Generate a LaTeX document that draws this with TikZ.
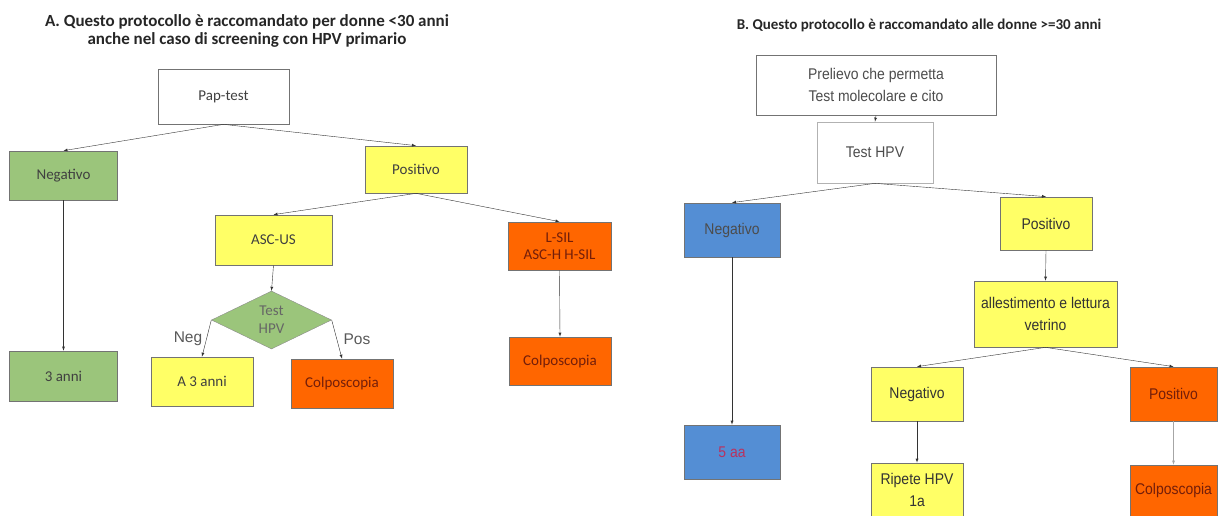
\documentclass[tikz,border=0pt]{standalone}
\usepackage{fontspec}
\setmainfont{Carlito}
\newfontfamily\arialstretta[FakeStretch=0.9]{Liberation Sans}
\newfontfamily\arialfont{Liberation Sans}
\usetikzlibrary{shapes.geometric}
\definecolor{verde}{RGB}{155,197,123}
\definecolor{giallo}{RGB}{255,255,102}
\definecolor{arancio}{RGB}{255,102,0}
\definecolor{blu}{RGB}{84,142,212}
\definecolor{testoarancio}{RGB}{115,30,10}
\definecolor{testorosso}{RGB}{185,50,95}

\begin{document}
\begin{tikzpicture}[x=1pt,y=-1pt]
% Stili (MODIFICABILI)
\tikzstyle{freccia}=[->,>=latex,thin,draw=black!80]
\tikzstyle{scatola}=[draw=black!55,line width=0.7pt,inner sep=1pt,align=center,text=black!75,font=\fontsize{15}{17}\selectfont]
\tikzstyle{scatolaB}=[scatola,text=black!80,font=\arialstretta\fontsize{15.5}{22}\selectfont]
\tikzstyle{rombo}=[diamond,draw=black!45,fill=verde,inner sep=0pt,align=center,text=black!60,font=\fontsize{15}{18}\selectfont]
\tikzstyle{etichetta}=[text=black!65,font=\arialfont\fontsize{15.5}{18}\selectfont]
\tikzstyle{titolo}=[align=center,text=black!85,font=\bfseries\fontsize{17}{18.3}\selectfont]
% Cornice
\useasboundingbox (0,0) rectangle (1218,516);
% Titoli
\node[titolo] (TA) at (247,31) {A. Questo protocollo è raccomandato per donne <30 anni\\anche nel caso di screening con HPV primario};
\node[titolo,font=\bfseries\fontsize{15}{18}\selectfont] (TB) at (919,25) {B. Questo protocollo è raccomandato alle donne >=30 anni};
% Nodi A
\node[scatola,fill=white,minimum width=131pt,minimum height=55pt] (A) at (223.5,96.5) {Pap-test};
\node[scatola,fill=verde,minimum width=108pt,minimum height=49pt] (Aa) at (63.5,175.5) {Negativo};
\node[scatola,fill=giallo,minimum width=102pt,minimum height=47pt] (Ab) at (416,169.5) {Positivo};
\node[scatola,fill=verde,minimum width=108pt,minimum height=50pt] (Aaa) at (63.5,376) {3 anni};
\node[scatola,fill=giallo,minimum width=117pt,minimum height=50pt] (Aba) at (273.5,240) {ASC-US};
\node[scatola,fill=arancio,text=testoarancio,minimum width=103pt,minimum height=48pt] (Abb) at (559.5,246) {L-SIL\\ASC-H H-SIL};
\node[rombo,minimum width=120pt,minimum height=58pt] (Abaa) at (271.5,320) {Test\\HPV};
\node[scatola,fill=giallo,minimum width=102pt,minimum height=49pt] (Abaaa) at (202,381.5) {A 3 anni};
\node[scatola,fill=arancio,text=testoarancio,minimum width=102pt,minimum height=49pt] (Abaab) at (342,383.5) {Colposcopia};
\node[scatola,fill=arancio,text=testoarancio,minimum width=102pt,minimum height=48pt] (Abba) at (560,361) {Colposcopia};
\node[etichetta] (Neg) at (188,339) {Neg};
\node[etichetta] (Pos) at (357,339) {Pos};
% Nodi B
\node[scatolaB,fill=white,minimum width=240pt,minimum height=60pt,text=black!70] (B) at (876,85) {Prelievo che permetta\\Test molecolare e cito};
\node[scatolaB,fill=white,draw=black!30,minimum width=116pt,minimum height=61pt,text=black!70] (Ba) at (875,152.5) {Test HPV};
\node[scatolaB,fill=blu,minimum width=96pt,minimum height=54pt,text=black!70] (Baa) at (732,230) {Negativo};
\node[scatolaB,fill=giallo,minimum width=92pt,minimum height=53pt] (Bab) at (1046,223.5) {Positivo};
\node[scatolaB,fill=blu,minimum width=96pt,minimum height=54pt,text=testorosso] (Baaa) at (732,452) {5 aa};
\node[scatolaB,fill=giallo,minimum width=143pt,minimum height=66pt] (Baba) at (1045.5,314) {allestimento e lettura\\vetrino};
\node[scatolaB,fill=giallo,minimum width=92pt,minimum height=54pt] (Babaa) at (917,394) {Negativo};
\node[scatolaB,fill=arancio,text=testoarancio,minimum width=87pt,minimum height=54pt] (Babab) at (1173.5,394) {Positivo};
\node[scatolaB,fill=giallo,minimum width=92pt,minimum height=53pt] (Babaaa) at (917,489.5) {Ripete HPV\\1a};
\node[scatolaB,fill=arancio,text=testoarancio,minimum width=87pt,minimum height=51pt] (Bababa) at (1173.5,490.5) {Colposcopia};
% Archi A
\draw[freccia] (A.south)--(Aa.north);
\draw[freccia] (A.south)--(Ab.north);
\draw[freccia] (Aa.south)--(Aaa.north);
\draw[freccia] (Ab.south)--(Aba.north);
\draw[freccia] (Ab.south)--(Abb.north);
\draw[freccia] (Aba.south)--(Abaa.north);
\draw[freccia] (Abaa.west)--(Abaaa.north);
\draw[freccia] (Abaa.east)--(Abaab.north);
\draw[freccia] (Abb.south)--(Abba.north);
% Archi B
\draw[freccia] (B.south)--(Ba.north);
\draw[freccia] (Ba.south)--(Baa.north);
\draw[freccia] (Ba.south)--(Bab.north);
\draw[freccia] (Baa.south)--(Baaa.north);
\draw[freccia] (Bab.south)--(Baba.north);
\draw[freccia] (Baba.south)--(Babaa.north);
\draw[freccia] (Baba.south)--(Babab.north);
\draw[freccia] (Babaa.south)--(Babaaa.north);
\draw[freccia,draw=black!35] (Babab.south)--(Bababa.north);
\end{tikzpicture}
\end{document}
